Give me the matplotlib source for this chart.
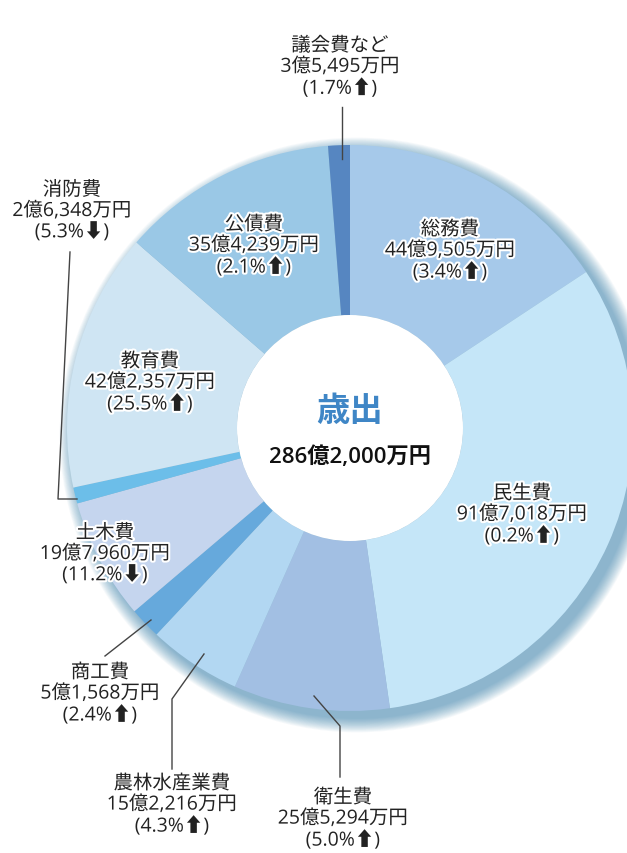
import matplotlib
matplotlib.use("Agg")
import matplotlib.pyplot as plt
import matplotlib.patheffects as pe
from matplotlib.patches import Circle

plt.rcParams['font.family'] = ['Open Sans', 'Noto Sans CJK JP', 'DejaVu Sans']

categories = ["総務費", "民生費", "衛生費", "農林水産業費", "商工費", "土木費",
              "消防費", "教育費", "公債費", "議会費など"]
amounts = [449505, 917018, 255294, 152216, 51568, 197960, 26348, 422357, 354239, 35495]  # 万円
amount_labels = ["44億9,505万円", "91億7,018万円", "25億5,294万円", "15億2,216万円",
                 "5億1,568万円", "19億7,960万円", "2億6,348万円", "42億2,357万円",
                 "35億4,239万円", "3億5,495万円"]
changes = ["(3.4%⬆)", "(0.2%⬆)", "(5.0%⬆)", "(4.3%⬆)", "(2.4%⬆)", "(11.2%⬇)",
           "(5.3%⬇)", "(25.5%⬆)", "(2.1%⬆)", "(1.7%⬆)"]
colors = ["#a6c9ea", "#c5e6f8", "#a2bfe3", "#b2d7f2", "#66a9dc", "#c5d5ee",
          "#6cbee9", "#cfe5f3", "#9ac8e6", "#5686c1"]
title = "歳出"
total_label = "286億2,000万円"

W, H = 627, 854
fig = plt.figure(figsize=(W / 100, H / 100), dpi=100)
ax = fig.add_axes([0, 0, 1, 1])

cx, cy_img = 350, 429
cy = H - cy_img
R, r_in = 283, 113

# soft shadow
for k in range(18, 0, -1):
    ax.add_patch(Circle((cx + 7, cy - 7), R + k * 0.8, color="#2f7aa8",
                        alpha=0.04, lw=0, zorder=0))

ax.pie(amounts, colors=colors, startangle=90, counterclock=False, radius=R,
       center=(cx, cy), wedgeprops=dict(width=R - r_in, linewidth=0))
ax.add_patch(Circle((cx, cy), r_in, color="white", lw=0, zorder=3))

ax.set_xlim(0, W)
ax.set_ylim(0, H)
ax.set_aspect("equal")
ax.axis("off")

# label positions in image coords
pos = {
    "総務費": (450, 252),
    "民生費": (522, 516),
    "衛生費": (343, 820),
    "農林水産業費": (172, 806),
    "商工費": (100, 695),
    "土木費": (105, 555),
    "消防費": (72, 212),
    "教育費": (150, 384),
    "公債費": (254, 247),
    "議会費など": (340, 68),
}
halo = [pe.withStroke(linewidth=3, foreground="white")]
for cat, amt, ch in zip(categories, amount_labels, changes):
    x, y = pos[cat]
    ax.text(x, H - y, f"{cat}\n{amt}\n{ch}", ha="center", va="center",
            fontsize=14, color="#222222", linespacing=1.14, zorder=6,
            path_effects=halo)

# leader lines (image coords)
leaders = [
    [(342, 108), (342, 160)],
    [(70, 253), (58, 500), (77, 500)],
    [(105, 657), (151, 621)],
    [(172, 770), (172, 700), (204, 655)],
    [(340, 778), (340, 727), (314, 697)],
]
for pts in leaders:
    xs = [p[0] for p in pts]
    ys = [H - p[1] for p in pts]
    ax.plot(xs, ys, color="#444444", lw=1, zorder=5)

ax.text(cx, H - 413, title, ha="center", va="center", fontsize=24,
        color="#3f86c6", fontweight="bold", zorder=6)
ax.text(cx, H - 457, total_label, ha="center", va="center", fontsize=16,
        color="#111111", fontweight="semibold", zorder=6)

fig.savefig("out.png", dpi=100)
